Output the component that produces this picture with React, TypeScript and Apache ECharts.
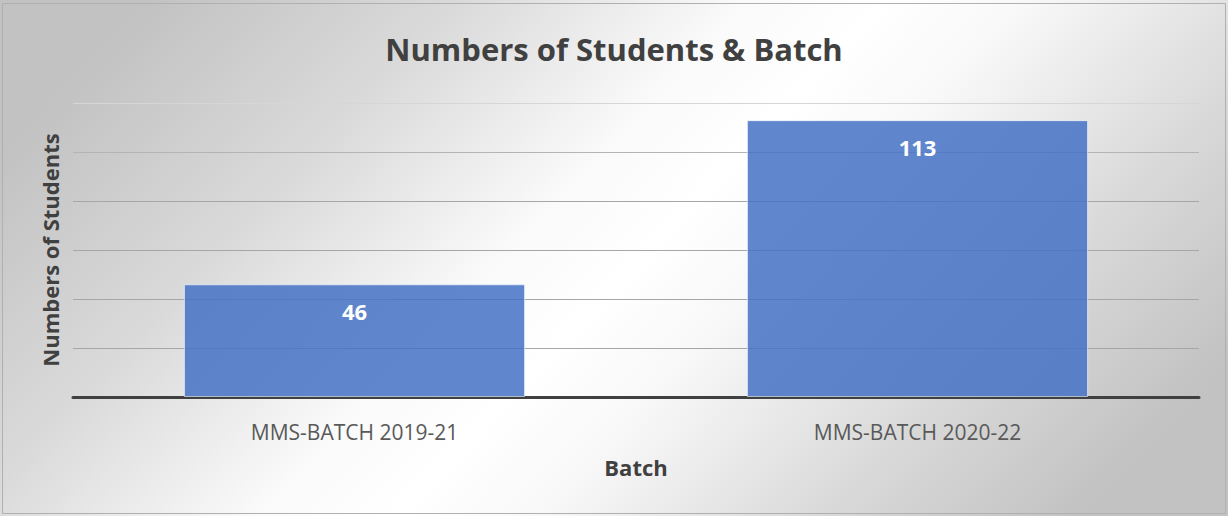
import React, { useEffect, useRef } from "react";
import * as echarts from "echarts";

const titleText = "Numbers of Students & Batch";
const categories = ["MMS-BATCH 2019-21", "MMS-BATCH 2020-22"];
const students = [46, 113];
const yAxisName = "Numbers of Students";
const xAxisName = "Batch";

const FONT = "'Open Sans', 'Noto Sans', sans-serif";

export default function App() {
  const ref = useRef<HTMLDivElement>(null);
  useEffect(() => {
    if (!ref.current) return;
    const chart = echarts.init(ref.current, undefined, { renderer: "svg" });
    chart.setOption({
      animation: false,
      backgroundColor: {
        type: "linear",
        x: 0,
        y: 0.3,
        x2: 1,
        y2: 0.7,
        colorStops: [
          { offset: 0, color: "#c2c2c2" },
          { offset: 0.22, color: "#dadada" },
          { offset: 0.42, color: "#fafafa" },
          { offset: 0.52, color: "#ffffff" },
          { offset: 0.62, color: "#f8f8f8" },
          { offset: 0.82, color: "#d9d9d9" },
          { offset: 1, color: "#c2c2c2" },
        ],
      },
      title: {
        text: titleText,
        left: "center",
        top: 28,
        textStyle: {
          fontFamily: FONT,
          fontSize: 31,
          fontWeight: "bold",
          color: "#404040",
        },
      },
      graphic: [
        {
          type: "rect",
          shape: { x: 2.5, y: 3.5, width: 1223, height: 510 },
          style: { fill: "none", stroke: "#b0b0b0", lineWidth: 1 },
          silent: true,
        },
      ],
      grid: { left: 73, right: 29, top: 103, bottom: 119, containLabel: false },
      xAxis: {
        type: "category",
        data: categories,
        name: xAxisName,
        nameLocation: "middle",
        nameGap: 59,
        nameTextStyle: {
          fontFamily: FONT,
          fontSize: 22,
          fontWeight: "bold",
          color: "#404040",
        },
        axisLine: { show: true, lineStyle: { color: "#404040", width: 3 } },
        axisTick: { show: false },
        axisLabel: {
          fontFamily: FONT,
          fontSize: 21,
          color: "#595959",
          margin: 24,
        },
      },
      yAxis: {
        type: "value",
        min: 0,
        max: 120,
        interval: 20,
        name: yAxisName,
        nameLocation: "middle",
        nameGap: 12,
        nameRotate: 90,
        nameTextStyle: {
          fontFamily: FONT,
          fontSize: 22,
          fontWeight: "bold",
          color: "#404040",
        },
        axisLine: { show: false },
        axisTick: { show: false },
        axisLabel: { show: false },
        splitLine: {
          lineStyle: {
            color: ["#a6a6a6", "#a6a6a6", "#a6a6a6", "#a6a6a6", "#a6a6a6", "#b4b4b4", "#d6d6d6"],
            width: 1,
          },
        },
      },
      series: [
        {
          type: "bar",
          data: students,
          barWidth: "60.6%",
          itemStyle: {
            color: "rgba(68,114,196,0.85)",
            borderColor: "rgba(255,255,255,0.6)",
            borderWidth: 1,
          },
          label: {
            show: true,
            position: "insideTop",
            distance: 16,
            fontFamily: FONT,
            fontSize: 22,
            fontWeight: "bold",
            color: "#ffffff",
          },
        },
      ],
    });
    return () => chart.dispose();
  }, []);
  return (
    <div
      ref={ref}
      style={{ position: "fixed", left: 0, top: 0, width: 1228, height: 516 }}
    />
  );
}
